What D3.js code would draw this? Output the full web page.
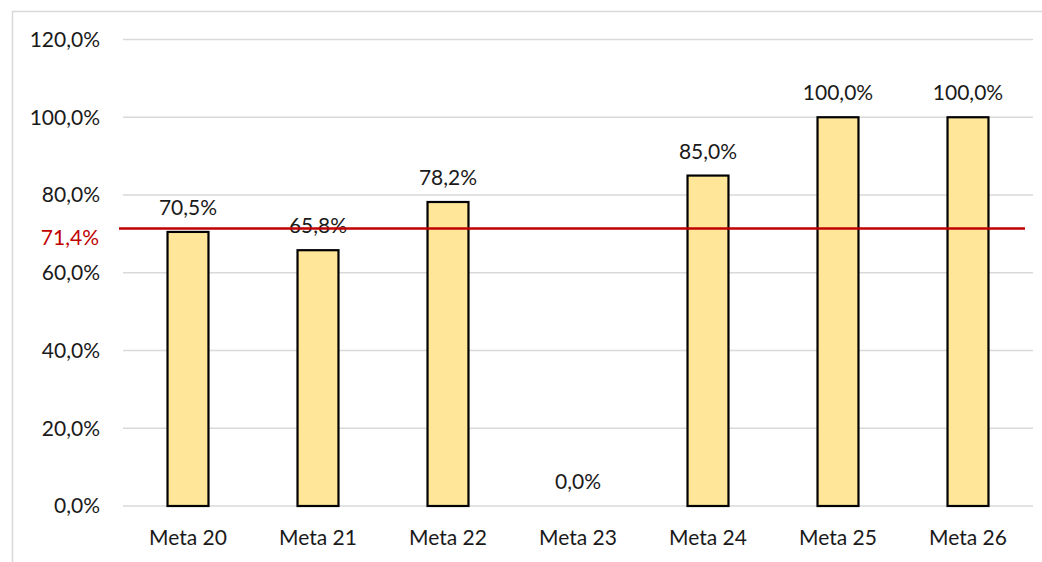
<!DOCTYPE html>
<html>
<head>
<meta charset="utf-8">
<script src="https://cdn.jsdelivr.net/npm/d3@7"></script>
<style>
  body { margin: 0; background: #fff; }
  svg { display: block; }
</style>
</head>
<body>
<div id="chart"></div>
<script>
const categories = ["Meta 20", "Meta 21", "Meta 22", "Meta 23", "Meta 24", "Meta 25", "Meta 26"];
const values = [0.705, 0.658, 0.782, 0.0, 0.85, 1.0, 1.0];
const yTicks = [0, 0.2, 0.4, 0.6, 0.8, 1.0, 1.2];
const average = 0.714;

const width = 1042, height = 562;
const fontFamily = "Lato, 'Liberation Sans', sans-serif";
const fontSize = "21px";
const textColor = "#1a1a1a";

const locale = d3.formatLocale({ decimal: ",", thousands: ".", grouping: [3], currency: ["", ""] });
const pct = locale.format(".1%");

const svg = d3.select("#chart").append("svg")
  .attr("width", width)
  .attr("height", height);

// chart area frame (right and bottom edges fall outside the picture)
svg.append("rect")
  .attr("x", 12.5)
  .attr("y", 11.5)
  .attr("width", 1100)
  .attr("height", 600)
  .attr("fill", "none")
  .attr("stroke", "#d9d9d9")
  .attr("stroke-width", 1.5);

const x = d3.scaleBand().domain(categories).range([123, 1033]).padding(0);
const y = d3.scaleLinear().domain([0, 1.2]).range([506, 39.5]);
const barWidth = x.bandwidth() * 0.315;

// grid lines
svg.selectAll(".grid")
  .data(yTicks)
  .enter().append("line")
  .attr("x1", 123)
  .attr("x2", 1033)
  .attr("y1", d => y(d))
  .attr("y2", d => y(d))
  .attr("stroke", "#d9d9d9")
  .attr("stroke-width", 1.5);

// y tick labels
svg.selectAll(".ytick")
  .data(yTicks)
  .enter().append("text")
  .attr("x", 100)
  .attr("y", d => y(d))
  .attr("dy", "0.35em")
  .attr("text-anchor", "end")
  .style("font-family", fontFamily)
  .style("font-size", fontSize)
  .style("fill", textColor)
  .text(d => pct(d));

// bars
svg.selectAll(".bar")
  .data(values.map((v, i) => ({ cat: categories[i], v })))
  .enter().filter(d => d.v > 0).append("rect")
  .attr("x", d => x(d.cat) + (x.bandwidth() - barWidth) / 2)
  .attr("y", d => y(d.v))
  .attr("width", barWidth)
  .attr("height", d => y(0) - y(d.v))
  .attr("fill", "#ffe699")
  .attr("stroke", "#000")
  .attr("stroke-width", 2.2);

// value labels
svg.selectAll(".vlabel")
  .data(values.map((v, i) => ({ cat: categories[i], v })))
  .enter().append("text")
  .attr("x", d => x(d.cat) + x.bandwidth() / 2)
  .attr("y", d => y(d.v) - 17)
  .attr("text-anchor", "middle")
  .style("font-family", fontFamily)
  .style("font-size", fontSize)
  .style("fill", textColor)
  .text(d => pct(d.v));

// category labels
svg.selectAll(".xlabel")
  .data(categories)
  .enter().append("text")
  .attr("x", d => x(d) + x.bandwidth() / 2)
  .attr("y", 545)
  .attr("text-anchor", "middle")
  .style("font-family", fontFamily)
  .style("font-size", fontSize)
  .style("fill", textColor)
  .text(d => d);

// average line
svg.append("line")
  .attr("x1", 119)
  .attr("x2", 1025)
  .attr("y1", y(average))
  .attr("y2", y(average))
  .attr("stroke", "#c00000")
  .attr("stroke-width", 2.5);

svg.append("text")
  .attr("x", 99)
  .attr("y", y(average) + 9)
  .attr("dy", "0.35em")
  .attr("text-anchor", "end")
  .style("font-family", fontFamily)
  .style("font-size", fontSize)
  .style("fill", "#c00000")
  .text(pct(average));
</script>
</body>
</html>
